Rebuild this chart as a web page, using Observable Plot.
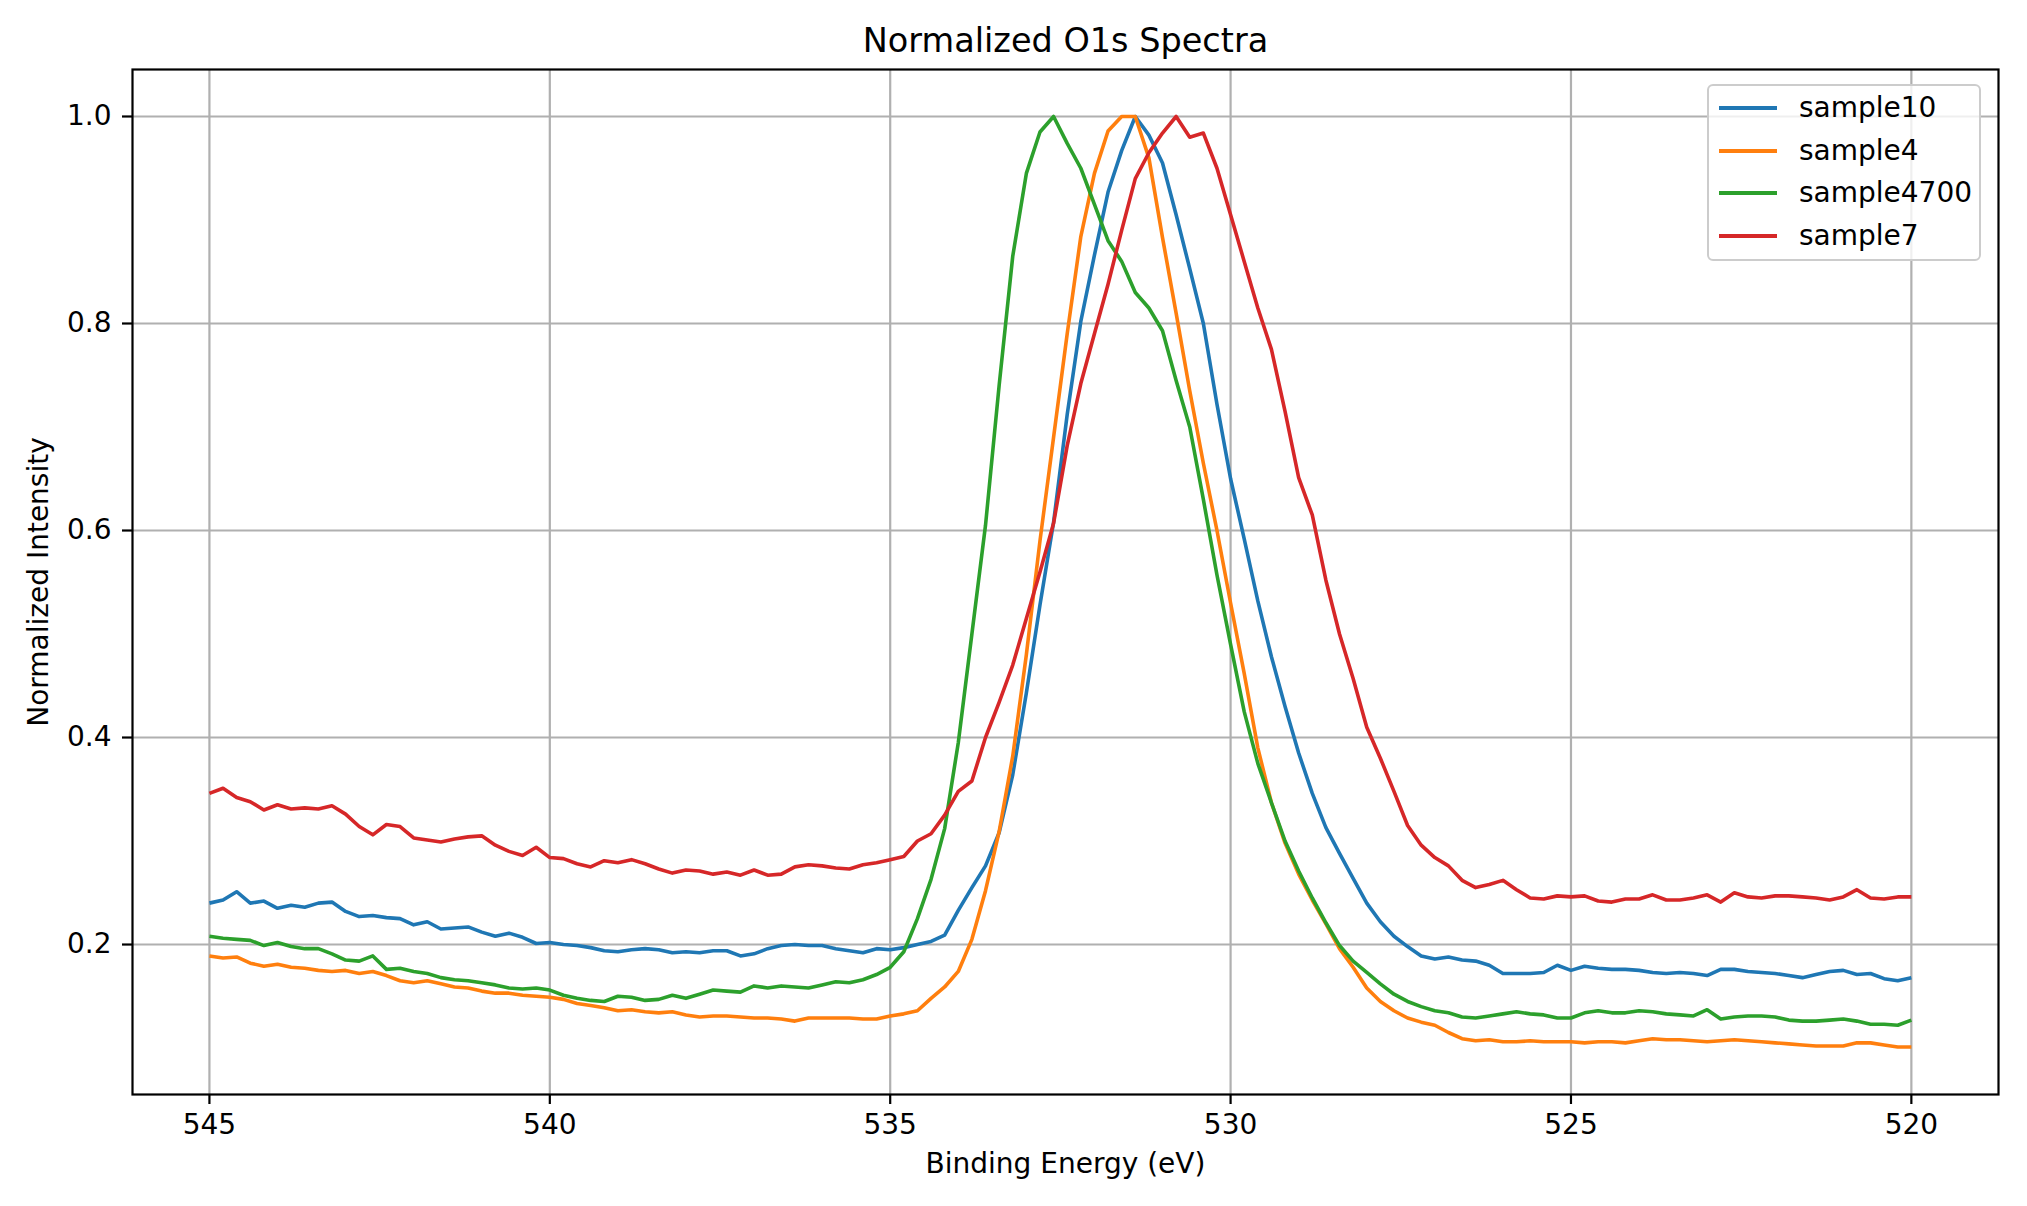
<!DOCTYPE html>
<html>
<head>
<meta charset="utf-8">
<script src="https://cdn.jsdelivr.net/npm/d3@7"></script>
<script src="https://cdn.jsdelivr.net/npm/@observablehq/plot@0.6"></script>
<style>
  html, body { margin: 0; padding: 0; background: #ffffff; }
  #wrap { position: relative; width: 2027px; height: 1206px; font-family: "DejaVu Sans", sans-serif; }
  #legend { position: absolute; left: 1707px; top: 84px; width: 274px; height: 177px; box-sizing: border-box;
            border: 2px solid #cccccc; border-radius: 6px; background: rgba(255,255,255,0.8); }
  .lg-row { position: absolute; left: 0; height: 0; }
  .lg-sw { position: absolute; left: 10px; width: 58px; height: 4px; top: -2px; }
  .lg-tx { position: absolute; left: 90px; top: -17px; font-size: 28px; line-height: 34px; color: #000; white-space: nowrap; }
</style>
</head>
<body>
<div id="wrap"></div>
<script>
// ---------------- data ----------------
const title = "Normalized O1s Spectra";
const xLabel = "Binding Energy (eV)";
const yLabel = "Normalized Intensity";

const seriesNames = ["sample10", "sample4", "sample4700", "sample7"];
const seriesColors = ["#1f77b4", "#ff7f0e", "#2ca02c", "#d62728"];

const xTicks = [545, 540, 535, 530, 525, 520];
const yTicks = [0.2, 0.4, 0.6, 0.8, 1.0];

const energy = [
  545.0,544.8,544.6,544.4,544.2,544.0,543.8,543.6,543.4,543.2,
  543.0,542.8,542.6,542.4,542.2,542.0,541.8,541.6,541.4,541.2,
  541.0,540.8,540.6,540.4,540.2,540.0,539.8,539.6,539.4,539.2,
  539.0,538.8,538.6,538.4,538.2,538.0,537.8,537.6,537.4,537.2,
  537.0,536.8,536.6,536.4,536.2,536.0,535.8,535.6,535.4,535.2,
  535.0,534.8,534.6,534.4,534.2,534.0,533.8,533.6,533.4,533.2,
  533.0,532.8,532.6,532.4,532.2,532.0,531.8,531.6,531.4,531.2,
  531.0,530.8,530.6,530.4,530.2,530.0,529.8,529.6,529.4,529.2,
  529.0,528.8,528.6,528.4,528.2,528.0,527.8,527.6,527.4,527.2,
  527.0,526.8,526.6,526.4,526.2,526.0,525.8,525.6,525.4,525.2,
  525.0,524.8,524.6,524.4,524.2,524.0,523.8,523.6,523.4,523.2,
  523.0,522.8,522.6,522.4,522.2,522.0,521.8,521.6,521.4,521.2,
  521.0,520.8,520.6,520.4,520.2,520.0
];

const sample10 = [
  0.240,0.243,0.251,0.240,0.242,0.235,0.238,0.236,0.240,0.241,
  0.232,0.227,0.228,0.226,0.225,0.219,0.222,0.215,0.216,0.217,
  0.212,0.208,0.211,0.207,0.201,0.202,0.200,0.199,0.197,0.194,
  0.193,0.195,0.196,0.195,0.192,0.193,0.192,0.194,0.194,0.189,
  0.191,0.196,0.199,0.200,0.199,0.199,0.196,0.194,0.192,0.196,
  0.195,0.197,0.200,0.203,0.209,0.233,0.255,0.276,0.308,0.364,
  0.443,0.528,0.608,0.712,0.802,0.866,0.927,0.967,1.000,0.982,
  0.955,0.905,0.853,0.800,0.722,0.650,0.592,0.532,0.478,0.430,
  0.385,0.346,0.313,0.288,0.264,0.240,0.222,0.208,0.198,0.189,
  0.186,0.188,0.185,0.184,0.180,0.172,0.172,0.172,0.173,0.180,
  0.175,0.179,0.177,0.176,0.176,0.175,0.173,0.172,0.173,0.172,
  0.170,0.176,0.176,0.174,0.173,0.172,0.170,0.168,0.171,0.174,
  0.175,0.171,0.172,0.167,0.165,0.168
];

const sample4 = [
  0.189,0.187,0.188,0.182,0.179,0.181,0.178,0.177,0.175,0.174,
  0.175,0.172,0.174,0.170,0.165,0.163,0.165,0.162,0.159,0.158,
  0.155,0.153,0.153,0.151,0.150,0.149,0.147,0.143,0.141,0.139,
  0.136,0.137,0.135,0.134,0.135,0.132,0.130,0.131,0.131,0.130,
  0.129,0.129,0.128,0.126,0.129,0.129,0.129,0.129,0.128,0.128,
  0.131,0.133,0.136,0.148,0.159,0.174,0.205,0.252,0.309,0.382,
  0.480,0.590,0.690,0.790,0.884,0.945,0.986,1.000,1.000,0.960,
  0.883,0.810,0.735,0.665,0.600,0.530,0.462,0.390,0.337,0.298,
  0.268,0.243,0.220,0.196,0.178,0.158,0.145,0.136,0.129,0.125,
  0.122,0.115,0.109,0.107,0.108,0.106,0.106,0.107,0.106,0.106,
  0.106,0.105,0.106,0.106,0.105,0.107,0.109,0.108,0.108,0.107,
  0.106,0.107,0.108,0.107,0.106,0.105,0.104,0.103,0.102,0.102,
  0.102,0.105,0.105,0.103,0.101,0.101
];

const sample4700 = [
  0.208,0.206,0.205,0.204,0.199,0.202,0.198,0.196,0.196,0.191,
  0.185,0.184,0.189,0.176,0.177,0.174,0.172,0.168,0.166,0.165,
  0.163,0.161,0.158,0.157,0.158,0.156,0.151,0.148,0.146,0.145,
  0.150,0.149,0.146,0.147,0.151,0.148,0.152,0.156,0.155,0.154,
  0.160,0.158,0.160,0.159,0.158,0.161,0.164,0.163,0.166,0.171,
  0.178,0.193,0.225,0.263,0.312,0.395,0.500,0.605,0.740,0.865,
  0.945,0.985,1.000,0.974,0.950,0.915,0.880,0.860,0.830,0.815,
  0.793,0.745,0.700,0.630,0.557,0.490,0.425,0.375,0.337,0.300,
  0.271,0.245,0.221,0.199,0.184,0.173,0.162,0.152,0.145,0.140,
  0.136,0.134,0.130,0.129,0.131,0.133,0.135,0.133,0.132,0.129,
  0.129,0.134,0.136,0.134,0.134,0.136,0.135,0.133,0.132,0.131,
  0.137,0.128,0.130,0.131,0.131,0.130,0.127,0.126,0.126,0.127,
  0.128,0.126,0.123,0.123,0.122,0.127
];

const sample7 = [
  0.346,0.351,0.342,0.338,0.330,0.335,0.331,0.332,0.331,0.334,
  0.326,0.314,0.306,0.316,0.314,0.303,0.301,0.299,0.302,0.304,
  0.305,0.296,0.290,0.286,0.294,0.284,0.283,0.278,0.275,0.281,
  0.279,0.282,0.278,0.273,0.269,0.272,0.271,0.268,0.270,0.267,
  0.272,0.267,0.268,0.275,0.277,0.276,0.274,0.273,0.277,0.279,
  0.282,0.285,0.300,0.307,0.325,0.348,0.358,0.400,0.434,0.470,
  0.515,0.560,0.607,0.682,0.742,0.790,0.838,0.890,0.940,0.965,
  0.984,1.000,0.980,0.984,0.950,0.905,0.860,0.815,0.775,0.715,
  0.651,0.615,0.552,0.500,0.457,0.410,0.380,0.348,0.315,0.296,
  0.284,0.276,0.262,0.255,0.258,0.262,0.253,0.245,0.244,0.247,
  0.246,0.247,0.242,0.241,0.244,0.244,0.248,0.243,0.243,0.245,
  0.248,0.241,0.250,0.246,0.245,0.247,0.247,0.246,0.245,0.243,
  0.246,0.253,0.245,0.244,0.246,0.246
];

const seriesValues = [sample10, sample4, sample4700, sample7];

// long table for Plot
const table = seriesNames.flatMap((name, s) =>
  energy.map((e, i) => ({series: name, energy: e, intensity: seriesValues[s][i]}))
);

// ---------------- chart ----------------
const W = 2027, H = 1206;
const fmt1 = d3.format(".1f");

const chart = Plot.plot({
  width: W,
  height: H,
  marginLeft: 132,
  marginRight: 29,
  marginTop: 69,
  marginBottom: 112,
  style: {fontFamily: "DejaVu Sans, sans-serif", fontSize: "28px", color: "#000", background: "#fff", overflow: "visible"},
  x: {domain: [546.13, 518.72]},
  y: {domain: [0.0551, 1.0454]},
  color: {domain: seriesNames, range: seriesColors},
  marks: [
    Plot.gridX(xTicks, {stroke: "#b0b0b0", strokeOpacity: 1, strokeWidth: 2.2}),
    Plot.gridY(yTicks, {stroke: "#b0b0b0", strokeOpacity: 1, strokeWidth: 2.2}),
    Plot.line(table, {x: "energy", y: "intensity", z: "series", stroke: "series", strokeWidth: 3.6, strokeLinejoin: "round", strokeLinecap: "butt"}),
    Plot.frame({stroke: "#000", strokeWidth: 2.2}),
    Plot.axisX(xTicks, {tickSize: 10, tickPadding: 10, fontSize: 28, stroke: "#000", strokeWidth: 2.2, label: null, tickFormat: d => String(d)}),
    Plot.axisY(yTicks, {tickSize: 10, tickPadding: 11, fontSize: 28, stroke: "#000", strokeWidth: 2.2, label: null, tickFormat: fmt1}),
    Plot.text([title], {text: d => d, frameAnchor: "top", dy: -28, fontSize: 33.5, textAnchor: "middle", lineAnchor: "middle", fill: "#000"}),
    Plot.text([xLabel], {text: d => d, frameAnchor: "bottom", dy: 70, fontSize: 28, textAnchor: "middle", lineAnchor: "middle", fill: "#000"}),
    Plot.text([yLabel], {text: d => d, frameAnchor: "left", dx: -93, rotate: -90, fontSize: 28, textAnchor: "middle", lineAnchor: "middle", fill: "#000"})
  ]
});

const wrap = document.getElementById("wrap");
wrap.appendChild(chart);

// legend (HTML overlay, built from the series arrays)
const legend = document.createElement("div");
legend.id = "legend";
seriesNames.forEach((name, i) => {
  const row = document.createElement("div");
  row.className = "lg-row";
  row.style.top = (22 + i * 42.7) + "px";
  const sw = document.createElement("div");
  sw.className = "lg-sw";
  sw.style.background = seriesColors[i];
  const tx = document.createElement("div");
  tx.className = "lg-tx";
  tx.textContent = name;
  row.appendChild(sw);
  row.appendChild(tx);
  legend.appendChild(row);
});
wrap.appendChild(legend);
</script>
</body>
</html>
